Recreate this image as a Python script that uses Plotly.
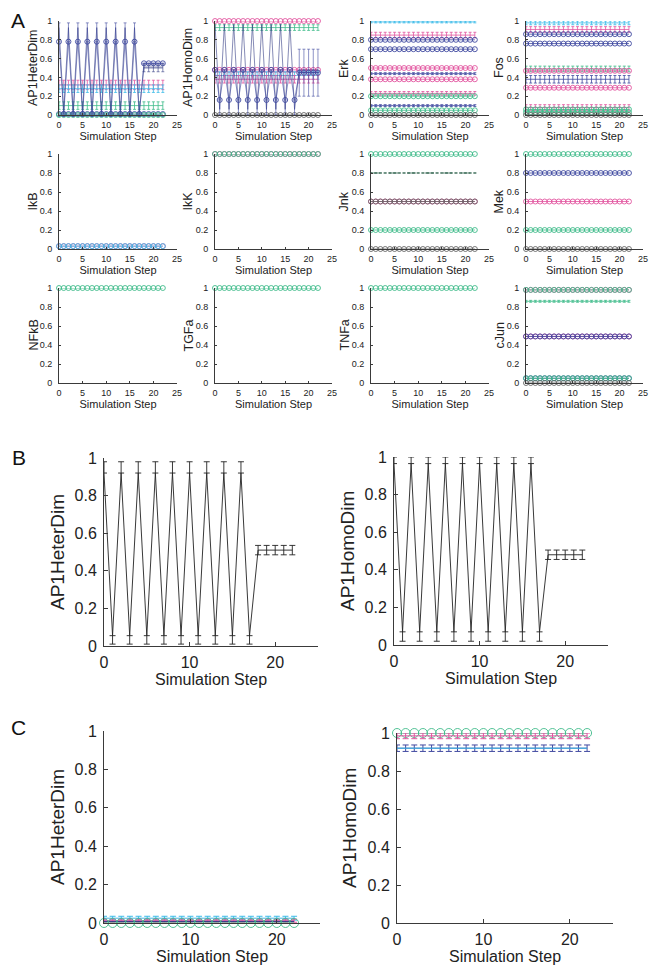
import plotly.graph_objects as go

# ---------------- data ----------------
STEPS = list(range(23))
TAIL_STEPS = [18, 19, 20, 21, 22]

# Panel B (single-cell traces with error bars)
B_HETER = [0.92, 0.055, 0.92, 0.055, 0.92, 0.055, 0.92, 0.055, 0.92, 0.055, 0.92, 0.055,
           0.92, 0.055, 0.92, 0.055, 0.92, 0.055, 0.51, 0.51, 0.51, 0.51, 0.51]
B_HETER_UP = [0.06, 0, 0.06, 0, 0.06, 0, 0.06, 0, 0.06, 0, 0.06, 0,
              0.06, 0, 0.06, 0, 0.06, 0, 0.025, 0.025, 0.025, 0.025, 0.025]
B_HETER_DN = [0, 0.045, 0, 0.045, 0, 0.045, 0, 0.045, 0, 0.045, 0, 0.045,
              0, 0.045, 0, 0.045, 0, 0.045, 0.025, 0.025, 0.025, 0.025, 0.025]
B_HOMO = [0.965, 0.07, 0.965, 0.07, 0.965, 0.07, 0.965, 0.07, 0.965, 0.07, 0.965, 0.07,
          0.965, 0.07, 0.965, 0.07, 0.965, 0.07, 0.48, 0.48, 0.48, 0.48, 0.48]
B_HOMO_UP = [0.035, 0, 0.035, 0, 0.035, 0, 0.035, 0, 0.035, 0, 0.035, 0,
             0.035, 0, 0.035, 0, 0.035, 0, 0.025, 0.025, 0.025, 0.025, 0.025]
B_HOMO_DN = [0, 0.05, 0, 0.05, 0, 0.05, 0, 0.05, 0, 0.05, 0, 0.05,
             0, 0.05, 0, 0.05, 0, 0.05, 0.025, 0.025, 0.025, 0.025, 0.025]

# Panel A oscillating series
A_HETER_LINE = [0.93, 0.03, 0.93, 0.03, 0.93, 0.03, 0.93, 0.03, 0.93, 0.03, 0.93, 0.03,
                0.93, 0.03, 0.93, 0.03, 0.93, 0.03, 0.51, 0.51, 0.51, 0.51, 0.51]
A_HETER_CIRC = [0.78, 0.01, 0.78, 0.01, 0.78, 0.01, 0.78, 0.01, 0.78, 0.01, 0.78, 0.01,
                0.78, 0.01, 0.78, 0.01, 0.78, 0.01, 0.55, 0.55, 0.55, 0.55, 0.55]
A_HETER_CIRC_UP = [0.2, 0.0, 0.2, 0.0, 0.2, 0.0, 0.2, 0.0, 0.2, 0.0, 0.2, 0.0,
                   0.2, 0.0, 0.2, 0.0, 0.2, 0.0, 0.0, 0.0, 0.0, 0.0, 0.0]
A_HETER_TAIL = [0.5, 0.5, 0.5, 0.5, 0.5]
A_HETER_TAIL_ERR = [0.04, 0.04, 0.04, 0.04, 0.04]

A_HOMO_LINE = [0.965, 0.06, 0.965, 0.06, 0.965, 0.06, 0.965, 0.06, 0.965, 0.06, 0.965, 0.06,
               0.965, 0.06, 0.965, 0.06, 0.965, 0.06, 0.48, 0.48, 0.48, 0.48, 0.48]
A_HOMO_CIRC = [0.48, 0.16, 0.48, 0.16, 0.48, 0.16, 0.48, 0.16, 0.48, 0.16, 0.48, 0.16,
               0.48, 0.16, 0.48, 0.16, 0.48, 0.16, 0.45, 0.45, 0.45, 0.45, 0.45]
A_HOMO_CIRC_DN = [0.0, 0.16, 0.0, 0.16, 0.0, 0.16, 0.0, 0.16, 0.0, 0.16, 0.0, 0.16,
                  0.0, 0.16, 0.0, 0.16, 0.0, 0.16, 0.0, 0.0, 0.0, 0.0, 0.0]
A_HOMO_TAIL = [0.45, 0.45, 0.45, 0.45, 0.45]
A_HOMO_TAIL_ERR = [0.25, 0.25, 0.25, 0.25, 0.25]

# Panel A constant (steady) levels per species
HETER_LEVELS = [0.32, 0.28, 0.10, 0.01, 0.00]
HETER_ERRS = [0.05, 0.04, 0.04, 0.0, 0.0]
HOMO_LEVELS = [1.00, 0.93, 0.48, 0.42, 0.38, 0.00]
HOMO_ERRS = [0.0, 0.03, 0.0, 0.04, 0.04, 0.0]
ERK_LEVELS = [0.99, 0.85, 0.80, 0.70, 0.50, 0.44, 0.38, 0.23, 0.20, 0.10, 0.05, 0.00]
ERK_ERRS = [0.01, 0.03, 0.0, 0.0, 0.0, 0.01, 0.0, 0.02, 0.0, 0.01, 0.0, 0.0]
FOS_LEVELS = [0.98, 0.91, 0.86, 0.76, 0.49, 0.47, 0.38, 0.29, 0.08, 0.06, 0.03, 0.00]
FOS_ERRS = [0.02, 0.03, 0.0, 0.0, 0.03, 0.0, 0.04, 0.0, 0.03, 0.0, 0.0, 0.0]
IKB_LEVELS = [0.03, 0.03]
IKB_ERRS = [0.0, 0.0]
IKK_LEVELS = [1.0, 1.0]
IKK_ERRS = [0.0, 0.0]
JNK_LEVELS = [1.0, 0.8, 0.5, 0.5, 0.2, 0.0]
JNK_ERRS = [0.0, 0.003, 0.0, 0.0, 0.0, 0.0]
MEK_LEVELS = [1.0, 0.8, 0.5, 0.2, 0.0]
MEK_ERRS = [0.0, 0.0, 0.0, 0.0, 0.0]
NFKB_LEVELS = [1.0]
NFKB_ERRS = [0.0]
TGFA_LEVELS = [1.0]
TGFA_ERRS = [0.0]
TNFA_LEVELS = [1.0]
TNFA_ERRS = [0.0]
CJUN_LEVELS = [0.98, 0.98, 0.86, 0.49, 0.49, 0.05, 0.05, 0.0]
CJUN_ERRS = [0.0, 0.0, 0.01, 0.0, 0.0, 0.0, 0.0, 0.0]

# Panel C steady levels
C_HETER_LEVELS = [0.025, 0.012, 0.008, 0.0]
C_HETER_ERRS = [0.01, 0.008, 0.0, 0.0]
C_HOMO_LEVELS = [1.0, 0.985, 0.92, 0.92]
C_HOMO_ERRS = [0.0, 0.015, 0.017, 0.0]

# labels
A_YLABELS = ["AP1HeterDim", "AP1HomoDim", "Erk", "Fos", "IkB", "IkK", "Jnk", "Mek",
             "NFkB", "TGFa", "TNFa", "cJun"]
BC_YLABELS = ["AP1HeterDim", "AP1HomoDim", "AP1HeterDim", "AP1HomoDim"]
XLABEL = "Simulation Step"
Y_TICKS = [0, 0.2, 0.4, 0.6, 0.8, 1]
Y_TICKTEXT = ["0", "0.2", "0.4", "0.6", "0.8", "1"]
A_XTICKS = [0, 5, 10, 15, 20, 25]
BC_XTICKS = [0, 10, 20]

# ---------------- styles ----------------
NAVY = "#4049a0"
DARK = "#343c85"
PINK = "#e2559f"
CYAN = "#3bbbe8"
GREEN = "#3fbb8a"
GRAY = "#666666"
AXC = "#3a3a3a"
TXT = "#222222"
FONT = "Liberation Sans, Arial, Helvetica, sans-serif"

HETER_STYLE = [(PINK, "e"), (CYAN, "e"), (GREEN, "e"), (NAVY, "c"), (GREEN, "c")]
HOMO_STYLE = [(PINK, "c"), (GREEN, "e"), (PINK, "c"), (CYAN, "e"), (PINK, "e"), (GRAY, "c")]
ERK_STYLE = [(CYAN, "e"), (PINK, "e"), (NAVY, "c"), (NAVY, "c"), (PINK, "c"), (NAVY, "e"),
             (PINK, "c"), (PINK, "e"), (GREEN, "c"), (NAVY, "e"), (GREEN, "c"), (GRAY, "c")]
FOS_STYLE = [(CYAN, "e"), (PINK, "e"), (NAVY, "c"), (NAVY, "c"), (GREEN, "e"), (PINK, "c"),
             (NAVY, "e"), (PINK, "c"), (PINK, "e"), (GREEN, "c"), (GREEN, "c"), (GRAY, "c")]
IKB_STYLE = [(PINK, "c"), (CYAN, "c")]
IKK_STYLE = [(PINK, "c"), (GREEN, "c")]
JNK_STYLE = [(GREEN, "c"), ("#3f6f5a", "d"), (PINK, "c"), (GRAY, "c"), (GREEN, "c"), (GRAY, "c")]
MEK_STYLE = [(GREEN, "c"), (NAVY, "c"), (PINK, "c"), (GREEN, "c"), (GRAY, "c")]
ONE_STYLE = [(GREEN, "c")]
CJUN_STYLE = [(PINK, "c"), (GREEN, "c"), (GREEN, "e"), (PINK, "c"), (NAVY, "c"),
              (NAVY, "c"), (GREEN, "c"), (GRAY, "c")]
C_HETER_STYLE = [(CYAN, "e"), (PINK, "e"), (DARK, "e"), (GREEN, "C")]
C_HOMO_STYLE = [(GREEN, "C"), (PINK, "e"), (NAVY, "e"), (CYAN, "l")]

# page offset of the plot div (default body margin) and figure size
OFF = 8
W, H = 659 - OFF, 978 - OFF
# plot boxes in target page pixels: (x0, x1, ytop, ybottom)
A_COLS = [(59, 177), (215, 332), (371, 489), (526, 643)]
A_ROWS = [(21, 115), (154, 249), (288, 383)]
BOXES = {}
k = 1
for r in A_ROWS:
    for c in A_COLS:
        BOXES[k] = (c[0], c[1], r[0], r[1])
        k += 1
BOXES[13] = (104, 318, 458, 646)
BOXES[14] = (394, 608, 457, 645)
BOXES[15] = (104, 320, 731, 923)
BOXES[16] = (397, 613, 733, 923)
# y-title centre x (page px)
A_YTITLE_X = [33, 188, 344, 499]
BC_YTITLE_X = {13: 57, 14: 347, 15: 57, 16: 349}


def px(x):
    return (x - OFF) / W


def py(y):
    return 1 - (y - OFF) / H


fig = go.Figure()


def add(ax, x, y, color, kind, up=None, dn=None, small=True, lw=None):
    size = 5 if small else 9
    lw = lw if lw is not None else (0.8 if small else 1.0)
    cap = 1.5 if small else 3
    mode = "lines+markers" if kind in ("c", "C") else "lines"
    err = None
    has_up = up is not None and any(v > 0 for v in up)
    has_dn = dn is not None and any(v > 0 for v in dn)
    if has_up or has_dn:
        err = dict(type="data", symmetric=False, array=up or [0] * len(y),
                   arrayminus=dn or [0] * len(y), color=color, thickness=lw, width=cap)
    fig.add_trace(go.Scatter(
        x=x, y=y, mode=mode, cliponaxis=False, showlegend=False, hoverinfo="skip",
        line=dict(color=color, width=lw, dash="dash" if kind == "d" else "solid"),
        marker=dict(symbol="circle-open", size=size if kind == "c" else 9,
                    color=color, line=dict(width=0.9, color=color)),
        error_y=err, xaxis="x%d" % ax, yaxis="y%d" % ax))


def add_levels(ax, levels, errs, styles, small=True):
    for lvl, e, (col, kind) in zip(levels, errs, styles):
        y = [lvl for _ in STEPS]
        ev = [e for _ in STEPS] if e > 0 else None
        add(ax, STEPS, y, col, kind, ev, ev, small=small)


# Panel A
add_levels(1, HETER_LEVELS, HETER_ERRS, HETER_STYLE)
add(1, STEPS, A_HETER_LINE, DARK, "e", lw=0.6)
add(1, STEPS, A_HETER_CIRC, NAVY, "c", A_HETER_CIRC_UP, None, lw=0.6)
add(1, TAIL_STEPS, A_HETER_TAIL, DARK, "e", A_HETER_TAIL_ERR, A_HETER_TAIL_ERR, lw=0.6)

add_levels(2, HOMO_LEVELS, HOMO_ERRS, HOMO_STYLE)
add(2, STEPS, A_HOMO_LINE, DARK, "e", lw=0.6)
add(2, STEPS, A_HOMO_CIRC, NAVY, "c", None, A_HOMO_CIRC_DN, lw=0.6)
add(2, TAIL_STEPS, A_HOMO_TAIL, NAVY, "e", A_HOMO_TAIL_ERR, A_HOMO_TAIL_ERR, lw=0.6)

add_levels(3, ERK_LEVELS, ERK_ERRS, ERK_STYLE)
add_levels(4, FOS_LEVELS, FOS_ERRS, FOS_STYLE)
add_levels(5, IKB_LEVELS, IKB_ERRS, IKB_STYLE)
add_levels(6, IKK_LEVELS, IKK_ERRS, IKK_STYLE)
add_levels(7, JNK_LEVELS, JNK_ERRS, JNK_STYLE)
add_levels(8, MEK_LEVELS, MEK_ERRS, MEK_STYLE)
add_levels(9, NFKB_LEVELS, NFKB_ERRS, ONE_STYLE)
add_levels(10, TGFA_LEVELS, TGFA_ERRS, ONE_STYLE)
add_levels(11, TNFA_LEVELS, TNFA_ERRS, ONE_STYLE)
add_levels(12, CJUN_LEVELS, CJUN_ERRS, CJUN_STYLE)

# Panel B
add(13, STEPS, B_HETER, "#222222", "e", B_HETER_UP, B_HETER_DN, small=False, lw=0.9)
add(14, STEPS, B_HOMO, "#222222", "e", B_HOMO_UP, B_HOMO_DN, small=False, lw=0.9)

# Panel C
add_levels(15, C_HETER_LEVELS, C_HETER_ERRS, C_HETER_STYLE, small=False)
add_levels(16, C_HOMO_LEVELS, C_HOMO_ERRS, C_HOMO_STYLE, small=False)

# ---------------- axes ----------------
layout = {}
annotations = []
for ax, (x0, x1, yt, yb) in BOXES.items():
    small = ax <= 12
    tf = 9 if small else 16
    ttf = 11 if small else 16
    ytf = 12.5 if small else 19
    layout["xaxis%d" % ax] = dict(
        domain=[px(x0), px(x1)], range=[0, 25], anchor="y%d" % ax, automargin=False,
        showline=True, linecolor=AXC, linewidth=1, ticks="inside",
        ticklen=2 if small else 4, tickcolor=AXC, tickvals=A_XTICKS if small else BC_XTICKS,
        tickfont=dict(size=tf, color=TXT, family=FONT), showgrid=False, zeroline=False,
        ticklabelstandoff=1 if small else 2,
        title=dict(text=XLABEL, font=dict(size=ttf, color=TXT, family=FONT),
                   standoff=1 if small else 2))
    layout["yaxis%d" % ax] = dict(
        domain=[py(yb), py(yt)], range=[0, 1], anchor="x%d" % ax, automargin=False,
        showline=True, linecolor=AXC, linewidth=1, ticks="inside",
        ticklen=2 if small else 4, tickcolor=AXC, tickvals=Y_TICKS, ticktext=Y_TICKTEXT,
        tickfont=dict(size=tf, color=TXT, family=FONT), showgrid=False, zeroline=False,
        ticklabelstandoff=4 if small else 3)
    ytitle = A_YLABELS[ax - 1] if small else BC_YLABELS[ax - 13]
    tx = A_YTITLE_X[(ax - 1) % 4] if small else BC_YTITLE_X[ax]
    annotations.append(dict(
        text=ytitle, textangle=-90, x=px(tx), y=py((yt + yb) / 2),
        xref="paper", yref="paper", xanchor="center", yanchor="middle", showarrow=False,
        font=dict(size=ytf, color=TXT, family=FONT)))

for lbl, lx, ly in (("A", 18, 21), ("B", 19, 457), ("C", 18, 727)):
    annotations.append(dict(text=lbl, x=px(lx), y=py(ly), xref="paper", yref="paper",
                            xanchor="center", yanchor="middle", showarrow=False,
                            font=dict(size=21, family=FONT, color="#111")))

fig.update_layout(**layout)
fig.update_layout(
    template="none",
    width=W, height=H, margin=dict(l=0, r=0, t=0, b=0, autoexpand=False),
    paper_bgcolor="white", plot_bgcolor="white", showlegend=False,
    font=dict(family=FONT, color=TXT),
    annotations=annotations)

fig.write_html("out.html")
